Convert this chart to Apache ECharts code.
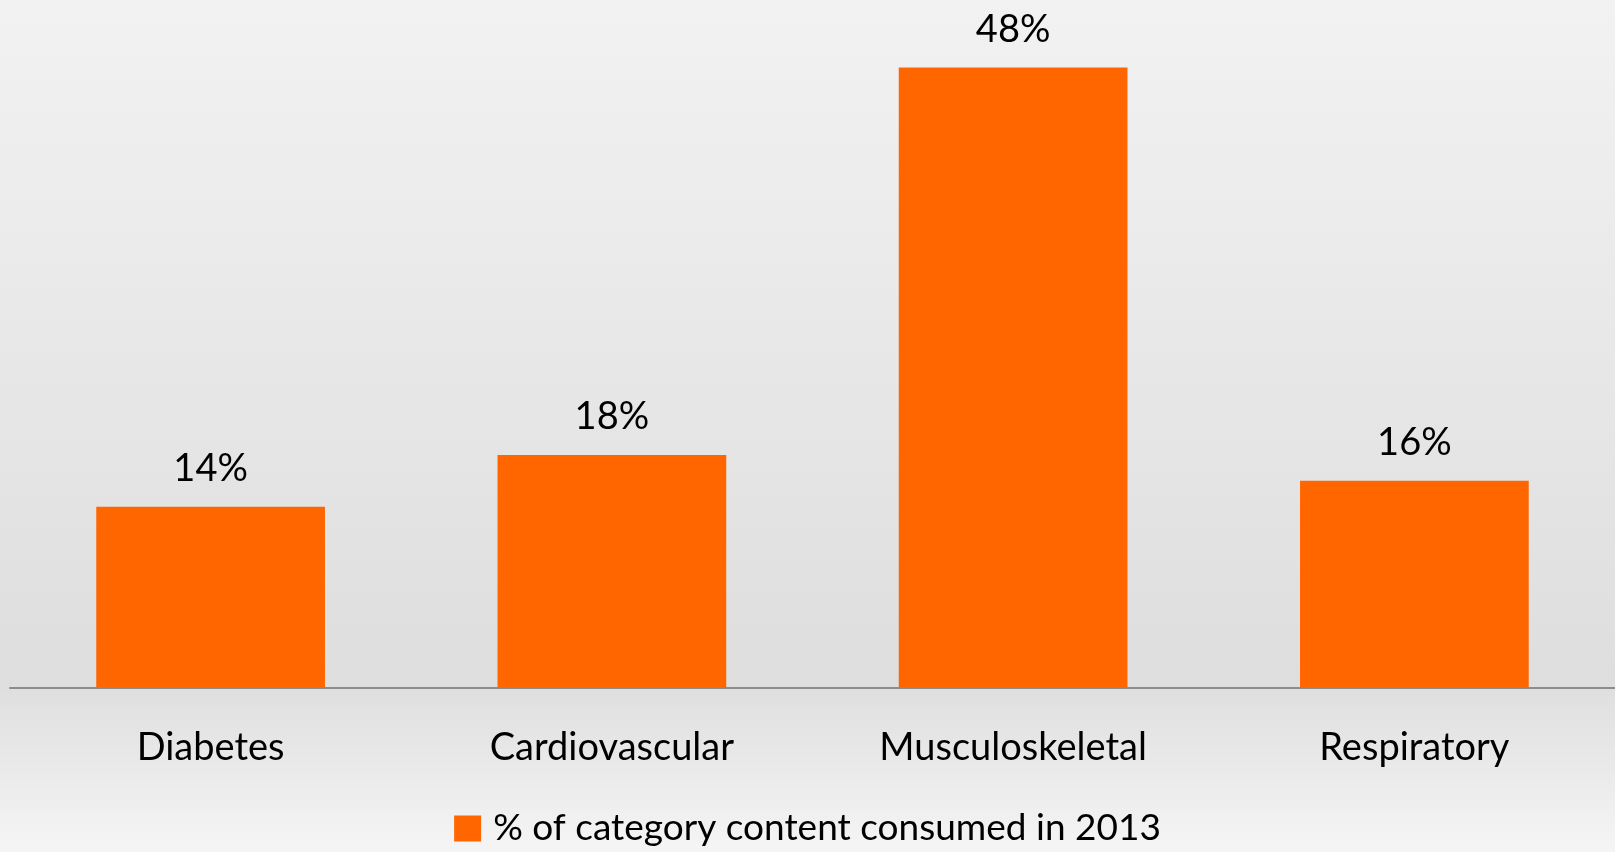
<!DOCTYPE html>
<html>
<head>
<meta charset="utf-8">
<script src="https://cdn.jsdelivr.net/npm/echarts@6/dist/echarts.min.js"></script>
<style>
html,body{margin:0;padding:0;}
#chart{width:1615px;height:852px;}
</style>
</head>
<body>
<div id="chart"></div>
<script>
const categories = ['Diabetes', 'Cardiovascular', 'Musculoskeletal', 'Respiratory'];
const seriesName = '% of category content consumed in 2013';
const values = [14, 18, 48, 16];

const chart = echarts.init(document.getElementById('chart'));
const FONT = 'Lato';
chart.setOption({
  backgroundColor: {
    type: 'linear', x: 0, y: 0, x2: 0, y2: 1,
    colorStops: [
      {offset: 0, color: '#f2f2f2'},
      {offset: 0.8, color: '#dedede'},
      {offset: 1, color: '#f5f5f5'}
    ]
  },
  animation: false,
  grid: {left: 10, right: 0, top: 41.7, bottom: 164.5, containLabel: false},
  legend: {
    bottom: 0,
    left: 'center',
    itemWidth: 27,
    itemHeight: 26,
    itemGap: 10,
    icon: 'rect',
    textStyle: {fontFamily: FONT, fontSize: 37, color: '#000', padding: [0, 0, 0, 7]},
    data: [seriesName]
  },
  xAxis: {
    type: 'category',
    data: categories,
    axisLine: {show: true, lineStyle: {color: '#8c8c8c', width: 2}},
    axisTick: {show: false},
    axisLabel: {fontFamily: FONT, fontSize: 38, color: '#000', margin: 41}
  },
  yAxis: {
    type: 'value',
    min: 0, max: 50,
    show: false,
    splitLine: {show: false}
  },
  series: [{
    name: seriesName,
    type: 'bar',
    data: values,
    barCategoryGap: '43%',
    itemStyle: {color: '#ff6600'},
    label: {
      show: true, position: 'top', distance: 19,
      formatter: '{c}%',
      fontFamily: FONT, fontSize: 38, color: '#000'
    }
  }]
});
</script>
</body>
</html>
